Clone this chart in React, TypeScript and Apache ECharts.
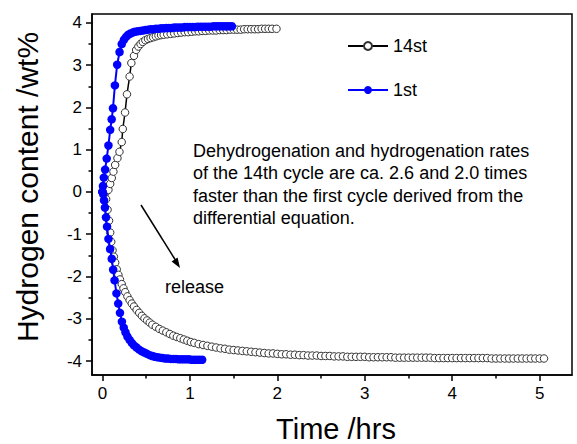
import React, { useEffect, useRef } from "react";
import * as echarts from "echarts";

// Time (hrs), hydrogen content (wt%) pairs
const cycle14Absorb: [number, number][] = [
  [0, 0], [0.017, 0.0], [0.034, 0.01], [0.05, 0.02], [0.068, 0.05], [0.088, 0.19], [0.106, 0.33],
  [0.125, 0.48], [0.145, 0.64], [0.171, 0.8], [0.194, 0.95], [0.22, 1.18], [0.232, 1.49],
  [0.258, 1.88], [0.28, 2.31], [0.31, 2.73], [0.33, 3.05], [0.36, 3.22], [0.385, 3.36],
  [0.41, 3.44], [0.435, 3.5], [0.46, 3.55], [0.49, 3.59], [0.52, 3.62], [0.55, 3.64],
  [0.58, 3.66], [0.61, 3.68], [0.64, 3.7], [0.67, 3.71], [0.7, 3.72], [0.74, 3.73],
  [0.78, 3.74], [0.82, 3.75], [0.86, 3.76], [0.9, 3.77], [0.94, 3.78], [0.98, 3.78],
  [1.02, 3.79], [1.06, 3.8], [1.1, 3.8], [1.14, 3.81], [1.18, 3.81], [1.22, 3.82],
  [1.26, 3.82], [1.3, 3.82], [1.34, 3.83], [1.38, 3.83], [1.42, 3.83], [1.46, 3.84],
  [1.5, 3.84], [1.54, 3.84], [1.58, 3.84], [1.62, 3.85], [1.66, 3.85], [1.7, 3.85],
  [1.74, 3.85], [1.78, 3.85], [1.82, 3.86], [1.86, 3.86], [1.9, 3.86], [1.94, 3.86], [1.99, 3.86],
];

const cycle14Release: [number, number][] = [
  [0, 0], [0.02, -0.08], [0.042, -0.17], [0.058, -0.42], [0.075, -0.68], [0.088, -0.96],
  [0.1, -1.18], [0.115, -1.38], [0.13, -1.53], [0.145, -1.67], [0.163, -1.83], [0.182, -1.96],
  [0.2, -2.07], [0.22, -2.18], [0.24, -2.28], [0.26, -2.37], [0.285, -2.47], [0.31, -2.56],
  [0.335, -2.64], [0.36, -2.71], [0.39, -2.79], [0.42, -2.86], [0.45, -2.93], [0.48, -2.99],
  [0.51, -3.04], [0.54, -3.09], [0.57, -3.14], [0.61, -3.19], [0.65, -3.24], [0.69, -3.28],
  [0.73, -3.32], [0.77, -3.36], [0.81, -3.4], [0.85, -3.43], [0.89, -3.46], [0.93, -3.49],
  [0.97, -3.52], [1.01, -3.55], [1.05, -3.57], [1.1, -3.6], [1.15, -3.62], [1.2, -3.64],
  [1.25, -3.66], [1.3, -3.68], [1.35, -3.7], [1.4, -3.71], [1.45, -3.73], [1.5, -3.74],
  [1.55, -3.75], [1.6, -3.76], [1.65, -3.77], [1.7, -3.78], [1.75, -3.79], [1.8, -3.8],
  [1.85, -3.81], [1.9, -3.82], [1.95, -3.82], [2.0, -3.83], [2.05, -3.84], [2.1, -3.84],
  [2.15, -3.85], [2.2, -3.85], [2.25, -3.86], [2.3, -3.86], [2.35, -3.87], [2.4, -3.87],
  [2.45, -3.87], [2.5, -3.88], [2.55, -3.88], [2.6, -3.88], [2.65, -3.89], [2.7, -3.89],
  [2.75, -3.89], [2.8, -3.9], [2.85, -3.9], [2.9, -3.9], [2.95, -3.9], [3.0, -3.9],
  [3.05, -3.91], [3.1, -3.91], [3.15, -3.91], [3.2, -3.91], [3.25, -3.91], [3.3, -3.91],
  [3.35, -3.92], [3.4, -3.92], [3.45, -3.92], [3.5, -3.92], [3.55, -3.92], [3.6, -3.92],
  [3.65, -3.92], [3.7, -3.92], [3.75, -3.92], [3.8, -3.93], [3.85, -3.93], [3.9, -3.93],
  [3.95, -3.93], [4.0, -3.93], [4.05, -3.93], [4.1, -3.93], [4.15, -3.93], [4.2, -3.93],
  [4.25, -3.93], [4.3, -3.93], [4.35, -3.93], [4.4, -3.93], [4.45, -3.94], [4.5, -3.94],
  [4.55, -3.94], [4.6, -3.94], [4.65, -3.94], [4.7, -3.94], [4.75, -3.94], [4.8, -3.94],
  [4.85, -3.94], [4.9, -3.94], [4.95, -3.94], [5.0, -3.94], [5.05, -3.94],
];

const cycle1Absorb: [number, number][] = [
  [0, 0], [0.005, 0.14], [0.015, 0.34], [0.03, 0.53], [0.048, 0.79], [0.068, 1.1], [0.088, 1.47],
  [0.105, 1.72], [0.12, 1.98], [0.142, 2.52], [0.168, 3.01], [0.195, 3.31], [0.22, 3.5],
  [0.245, 3.6], [0.27, 3.67], [0.295, 3.72], [0.32, 3.75], [0.345, 3.77], [0.37, 3.79],
  [0.4, 3.8], [0.43, 3.81], [0.46, 3.82], [0.49, 3.83], [0.52, 3.84], [0.55, 3.85],
  [0.58, 3.85], [0.61, 3.86], [0.64, 3.86], [0.67, 3.87], [0.7, 3.87], [0.73, 3.88],
  [0.76, 3.88], [0.79, 3.88], [0.82, 3.89], [0.85, 3.89], [0.88, 3.89], [0.91, 3.89],
  [0.94, 3.9], [0.97, 3.9], [1.0, 3.9], [1.03, 3.9], [1.06, 3.9], [1.09, 3.91], [1.12, 3.91],
  [1.15, 3.91], [1.18, 3.91], [1.21, 3.91], [1.24, 3.91], [1.27, 3.92], [1.3, 3.92],
  [1.33, 3.92], [1.36, 3.92], [1.39, 3.92], [1.42, 3.92], [1.45, 3.92], [1.48, 3.92],
];

const cycle1Release: [number, number][] = [
  [0, 0], [0.008, -0.05], [0.018, -0.2], [0.028, -0.37], [0.04, -0.6], [0.052, -0.82],
  [0.068, -1.11], [0.087, -1.35], [0.106, -1.58], [0.122, -1.84], [0.138, -2.09], [0.16, -2.4],
  [0.18, -2.64], [0.2, -2.86], [0.222, -3.07], [0.243, -3.21], [0.263, -3.32], [0.285, -3.42],
  [0.31, -3.5], [0.335, -3.57], [0.36, -3.63], [0.39, -3.68], [0.42, -3.73], [0.45, -3.77],
  [0.48, -3.8], [0.51, -3.83], [0.54, -3.86], [0.57, -3.88], [0.6, -3.9], [0.63, -3.91],
  [0.66, -3.92], [0.69, -3.93], [0.72, -3.94], [0.75, -3.94], [0.78, -3.95], [0.81, -3.95],
  [0.84, -3.95], [0.87, -3.96], [0.9, -3.96], [0.93, -3.96], [0.96, -3.96], [0.99, -3.96],
  [1.02, -3.97], [1.05, -3.97], [1.08, -3.97], [1.11, -3.97], [1.14, -3.97],
];

const xMajorTicks = [0, 1, 2, 3, 4, 5];
const xMinorTicks = [0.5, 1.5, 2.5, 3.5, 4.5];
const yMajorTicks = [-4, -3, -2, -1, 0, 1, 2, 3, 4];
const yMinorTicks = [-3.5, -2.5, -1.5, -0.5, 0.5, 1.5, 2.5, 3.5];

const seriesNames = ["14st", "1st"];
const xTitle = "Time /hrs";
const yTitle = "Hydrogen content /wt%";
const noteLines = [
  "Dehydrogenation and hydrogenation rates",
  "of the 14th cycle are ca. 2.6 and 2.0 times",
  "faster than the first cycle derived from the",
  "differential equation.",
];
const releaseLabel = "release";

const FONT = "'Liberation Sans', Arial, sans-serif";

export default function App() {
  const ref = useRef<HTMLDivElement>(null);
  useEffect(() => {
    if (!ref.current) return;
    const chart = echarts.init(ref.current, null, { renderer: "svg" });
    const xMin = -0.12, xMax = 5.37, yMin = -4.33, yMax = 4.21;
    const axisCommon = { show: true, onZero: false, lineStyle: { color: "#000", width: 1.5 } };
    const noLine = { show: false, onZero: false };
    const whiteSeries = (data: [number, number][]) => ({
      type: "line",
      name: seriesNames[0],
      data,
      xAxisIndex: 0,
      yAxisIndex: 0,
      symbol: "circle",
      symbolSize: 7.5,
      showSymbol: true,
      lineStyle: { color: "#000", width: 1.5 },
      itemStyle: { color: "#fff", borderColor: "#333", borderWidth: 1 },
      z: 2,
    });
    const blueSeries = (data: [number, number][]) => ({
      type: "line",
      name: seriesNames[1],
      data,
      xAxisIndex: 0,
      yAxisIndex: 0,
      symbol: "circle",
      symbolSize: 8.5,
      showSymbol: true,
      lineStyle: { color: "#0000ff", width: 2 },
      itemStyle: { color: "#0000ff", borderWidth: 0 },
      z: 3,
    });
    const noteGraphics = noteLines.map((t, i) => ({
      type: "text",
      left: 193,
      top: 142 + i * 22.3,
      style: { text: t, font: `18px ${FONT}`, fill: "#000" },
    }));
    chart.setOption({
      animation: false,
      backgroundColor: "#fff",
      grid: {
        left: 92, top: 14, right: 5, bottom: 69,
        show: true, borderColor: "#000", borderWidth: 1.5,
      },
      legend: {
        data: seriesNames,
        orient: "vertical",
        left: 342,
        top: 32,
        itemWidth: 40,
        itemHeight: 10,
        itemGap: 26,
        textStyle: { fontFamily: FONT, fontSize: 18, color: "#000" },
      },
      xAxis: [
        {
          type: "value", min: xMin, max: xMax, position: "bottom",
          axisLine: axisCommon,
          splitLine: { show: false },
          axisTick: { show: true, length: 6, lineStyle: { color: "#000", width: 1.5 }, customValues: xMajorTicks },
          axisLabel: { customValues: xMajorTicks, fontFamily: FONT, fontSize: 17, color: "#000", margin: 10 },
        },
        {
          type: "value", min: xMin, max: xMax, position: "bottom",
          axisLine: noLine,
          splitLine: { show: false },
          axisTick: { show: true, length: 3.5, lineStyle: { color: "#000", width: 1.5 }, customValues: xMinorTicks },
          axisLabel: { show: false },
        },
      ],
      yAxis: [
        {
          type: "value", min: yMin, max: yMax, position: "left",
          axisLine: axisCommon,
          splitLine: { show: false },
          axisTick: { show: true, length: 6, lineStyle: { color: "#000", width: 1.5 }, customValues: yMajorTicks },
          axisLabel: { customValues: yMajorTicks, fontFamily: FONT, fontSize: 17, color: "#000", margin: 10 },
        },
        {
          type: "value", min: yMin, max: yMax, position: "left",
          axisLine: noLine,
          splitLine: { show: false },
          axisTick: { show: true, length: 3.5, lineStyle: { color: "#000", width: 1.5 }, customValues: yMinorTicks },
          axisLabel: { show: false },
        },
      ],
      series: [
        whiteSeries(cycle14Absorb),
        whiteSeries(cycle14Release),
        blueSeries(cycle1Absorb),
        blueSeries(cycle1Release),
      ],
      graphic: [
        {
          type: "text",
          x: 336, y: 429,
          style: { text: xTitle, font: `29px ${FONT}`, fill: "#000", align: "center", verticalAlign: "middle" },
        },
        {
          type: "text",
          x: 27, y: 187, rotation: Math.PI / 2,
          style: { text: yTitle, font: `30px ${FONT}`, fill: "#000", align: "center", verticalAlign: "middle" },
        },
        ...noteGraphics,
        {
          type: "line",
          shape: { x1: 141, y1: 205, x2: 176, y2: 261 },
          style: { stroke: "#000", lineWidth: 1.5 },
        },
        {
          type: "polygon",
          shape: { points: [[180, 268], [171.6, 261.4], [177.6, 257.6]] },
          style: { fill: "#000" },
        },
        {
          type: "text",
          left: 165, top: 278,
          style: { text: releaseLabel, font: `18px ${FONT}`, fill: "#000" },
        },
      ],
    });
    return () => chart.dispose();
  }, []);
  return (
    <div
      ref={ref}
      style={{ position: "fixed", left: 0, top: 0, width: 577, height: 444, background: "#fff" }}
    />
  );
}
